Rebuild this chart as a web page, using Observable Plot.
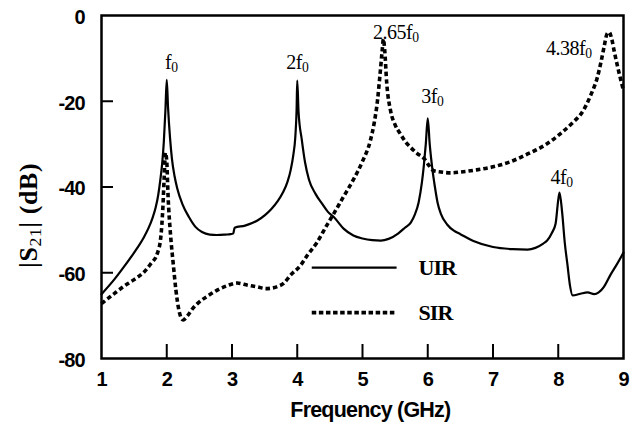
<!DOCTYPE html>
<html>
<head>
<meta charset="utf-8">
<script src="https://cdn.jsdelivr.net/npm/d3@7"></script>
<script src="https://cdn.jsdelivr.net/npm/@observablehq/plot@0.6"></script>
<style>
  html, body { margin: 0; padding: 0; background: #fff; }
  g[aria-label="x-axis tick label"] text, g[aria-label="y-axis tick label"] text { letter-spacing: -1px; }
  .xlab text { letter-spacing: -0.8px; }
  .leg text { letter-spacing: -1px; }
  .ann text { letter-spacing: -0.5px; }
  .ylab text { letter-spacing: 0.6px; }
</style>
</head>
<body>
<div id="chart"></div>
<script>
// Frequency ticks (GHz) and |S21| ticks (dB)
const xTicks = [1, 2, 3, 4, 5, 6, 7, 8, 9];
const yTicks = [0, -20, -40, -60, -80];

// UIR (solid)
const uirFreq = [1.00, 1.20, 1.34, 1.50, 1.65, 1.72, 1.78, 1.83, 1.87, 1.90, 1.93, 1.955, 1.98, 2.00, 2.02, 2.05, 2.08, 2.12, 2.16, 2.24, 2.34, 2.44, 2.54, 2.66, 2.77, 2.90, 2.98, 3.02, 3.04, 3.20, 3.39, 3.51, 3.60, 3.70, 3.78, 3.85, 3.90, 3.94, 3.97, 3.99, 4.00, 4.02, 4.07, 4.12, 4.18, 4.28, 4.38, 4.47, 4.56, 4.71, 4.86, 5.00, 5.15, 5.28, 5.40, 5.55, 5.65, 5.74, 5.80, 5.86, 5.91, 5.94, 5.97, 6.00, 6.03, 6.07, 6.11, 6.15, 6.20, 6.30, 6.40, 6.50, 6.70, 7.00, 7.30, 7.53, 7.65, 7.77, 7.83, 7.90, 7.96, 8.00, 8.02, 8.06, 8.10, 8.14, 8.18, 8.22, 8.34, 8.45, 8.55, 8.62, 8.70, 8.80, 8.90, 9.00];
const uirDb   = [-65.0, -61.5, -58.7, -55.3, -51.7, -49.6, -47.3, -44.8, -41.8, -38.5, -34.5, -29.5, -22.0, -15.0, -21.5, -28.5, -33.5, -37.5, -40.3, -44.0, -47.0, -49.3, -50.5, -51.1, -51.2, -51.1, -51.0, -50.8, -49.5, -49.0, -47.8, -46.5, -45.2, -43.3, -41.3, -38.8, -36.0, -32.5, -28.4, -22.0, -15.2, -22.5, -29.0, -34.3, -38.3, -41.6, -43.9, -45.8, -47.0, -49.7, -51.3, -52.0, -52.4, -52.5, -52.1, -50.8, -49.5, -48.3, -46.5, -43.6, -39.0, -35.0, -30.0, -24.0, -30.0, -35.7, -40.0, -43.6, -46.2, -48.8, -50.2, -51.0, -52.6, -54.0, -54.5, -54.6, -54.2, -53.2, -52.5, -50.8, -48.5, -43.0, -41.3, -46.0, -53.0, -58.0, -63.0, -65.3, -64.9, -64.6, -65.0, -64.6, -63.3, -60.5, -58.0, -55.3];

// SIR (dashed)
const sirFreq = [1.00, 1.20, 1.34, 1.50, 1.64, 1.75, 1.86, 1.91, 1.94, 1.96, 1.98, 2.00, 2.02, 2.06, 2.10, 2.14, 2.19, 2.25, 2.32, 2.40, 2.47, 2.65, 2.78, 2.93, 3.08, 3.24, 3.39, 3.52, 3.60, 3.70, 3.79, 3.90, 4.05, 4.16, 4.30, 4.45, 4.56, 4.70, 4.86, 5.00, 5.12, 5.18, 5.23, 5.27, 5.30, 5.32, 5.34, 5.37, 5.43, 5.50, 5.58, 5.66, 5.74, 5.84, 5.94, 6.02, 6.09, 6.20, 6.35, 6.50, 6.75, 7.00, 7.25, 7.53, 7.80, 8.03, 8.20, 8.39, 8.50, 8.60, 8.66, 8.70, 8.75, 8.78, 8.82, 8.86, 8.90, 8.95, 9.00];
const sirDb   = [-67.2, -64.8, -63.2, -61.6, -60.0, -58.0, -55.3, -51.5, -45.0, -38.0, -32.0, -34.0, -42.0, -51.5, -58.0, -64.0, -69.0, -71.0, -70.0, -68.3, -67.2, -65.2, -64.0, -63.0, -62.4, -62.9, -63.3, -63.7, -63.6, -63.2, -62.5, -60.5, -58.3, -55.8, -53.0, -49.0, -46.2, -42.5, -38.3, -34.0, -29.2, -25.0, -19.8, -13.5, -8.5, -5.5, -8.0, -15.5, -22.2, -25.5, -27.6, -29.5, -30.8, -32.2, -33.3, -35.0, -36.2, -36.5, -36.7, -36.5, -36.0, -35.3, -34.2, -32.3, -30.2, -27.6, -25.3, -22.0, -18.5, -14.4, -10.5, -7.5, -4.2, -3.9, -5.5, -8.5, -11.3, -14.5, -17.5];

// Peak annotations
const annLabels = ["f_0", "2f_0", "2.65f_0", "3f_0", "4.38f_0", "4f_0"];
const annFreq   = [2.07, 4.0, 5.51, 6.07, 8.16, 8.05];
const annDb     = [-10.9, -10.9, -3.9, -18.8, -7.8, -37.7];

// Legend
const legendNames = ["UIR", "SIR"];

const uir = uirFreq.map((f, i) => ({f, db: uirDb[i]}));
const sir = sirFreq.map((f, i) => ({f, db: sirDb[i]}));
const ann = annLabels.map((label, i) => ({label, f: annFreq[i], db: annDb[i]}));

const W = 631, H = 428, ML = 101, MR = 8, MT = 15, MB = 70;
const PW = W - ML - MR, PH = H - MT - MB;
const serif = "'Liberation Serif', 'Times New Roman', serif";
const sans = "'Liberation Sans', Arial, sans-serif";

const legY = [-58.8, -69.3];
const legend = legendNames.map((name, i) => ({name, y: legY[i]}));

const chart = Plot.plot({
  width: W, height: H,
  marginLeft: ML, marginRight: MR, marginTop: MT, marginBottom: MB,
  style: {fontFamily: sans, background: "#fff", color: "#000"},
  x: {domain: [1, 9], ticks: xTicks},
  y: {domain: [-80, 0], ticks: yTicks},
  marks: [
    Plot.axisX(xTicks, {tickSize: 0, tickPadding: 13, fontSize: 20, fontWeight: "bold", label: null, tickFormat: d => String(d)}),
    Plot.axisY(yTicks, {tickSize: 0, tickPadding: 17, dy: 2, fontSize: 20, fontWeight: "bold", label: null, tickFormat: d => String(d)}),
    Plot.ruleX(xTicks.slice(1, -1), {insetTop: PH - 14, strokeWidth: 2}),
    Plot.ruleY(yTicks.slice(1, -1), {insetRight: PW - 12, strokeWidth: 2}),
    Plot.line(uir, {x: "f", y: "db", stroke: "#000", strokeWidth: 2.2, curve: "monotone-x"}),
    Plot.line(sir, {x: "f", y: "db", stroke: "#000", strokeWidth: 3.6, strokeDasharray: "4.5,3", strokeLinecap: "butt", curve: "monotone-x"}),
    Plot.ruleY(legend.slice(0, 1), {y: "y", x1: 4.23, x2: 5.53, strokeWidth: 2.2}),
    Plot.ruleY(legend.slice(1), {y: "y", x1: 4.23, x2: 5.53, strokeWidth: 3.6, strokeDasharray: "4.5,2.6", strokeLinecap: "butt"}),
    Plot.text(legend, {x: 5.86, y: "y", text: "name", textAnchor: "start", fontFamily: serif, fontWeight: "bold", fontSize: 22, className: "leg"}),
    Plot.text(ann, {x: "f", y: "db", text: "label", fontFamily: serif, fontSize: 20, className: "ann"}),
    Plot.text(["Frequency (GHz)"], {x: () => 5.12, y: () => -92.0, fontWeight: "bold", fontSize: 21.5, className: "xlab"}),
    Plot.text(["|S_21| (dB)"], {x: () => -0.12, y: () => -46.6, rotate: -90, fontFamily: serif, fontWeight: "bold", fontSize: 26, className: "ylab"}),
    Plot.frame({stroke: "#000", strokeWidth: 2.5})
  ]
});

// Render "_n" as subscripts
chart.querySelectorAll("text").forEach(t => {
  const s = t.textContent;
  if (!s.includes("_")) return;
  const parts = s.split(/_(\d+)/);
  while (t.firstChild) t.removeChild(t.firstChild);
  parts.forEach((p, i) => {
    if (!p) return;
    const ts = document.createElementNS("http://www.w3.org/2000/svg", "tspan");
    ts.textContent = p;
    if (i % 2 === 1) {
      ts.setAttribute("font-size", "68%");
      ts.setAttribute("baseline-shift", "-0.22em");
      ts.setAttribute("font-weight", "normal");
    }
    t.appendChild(ts);
  });
});

document.getElementById("chart").appendChild(chart);
</script>
</body>
</html>
